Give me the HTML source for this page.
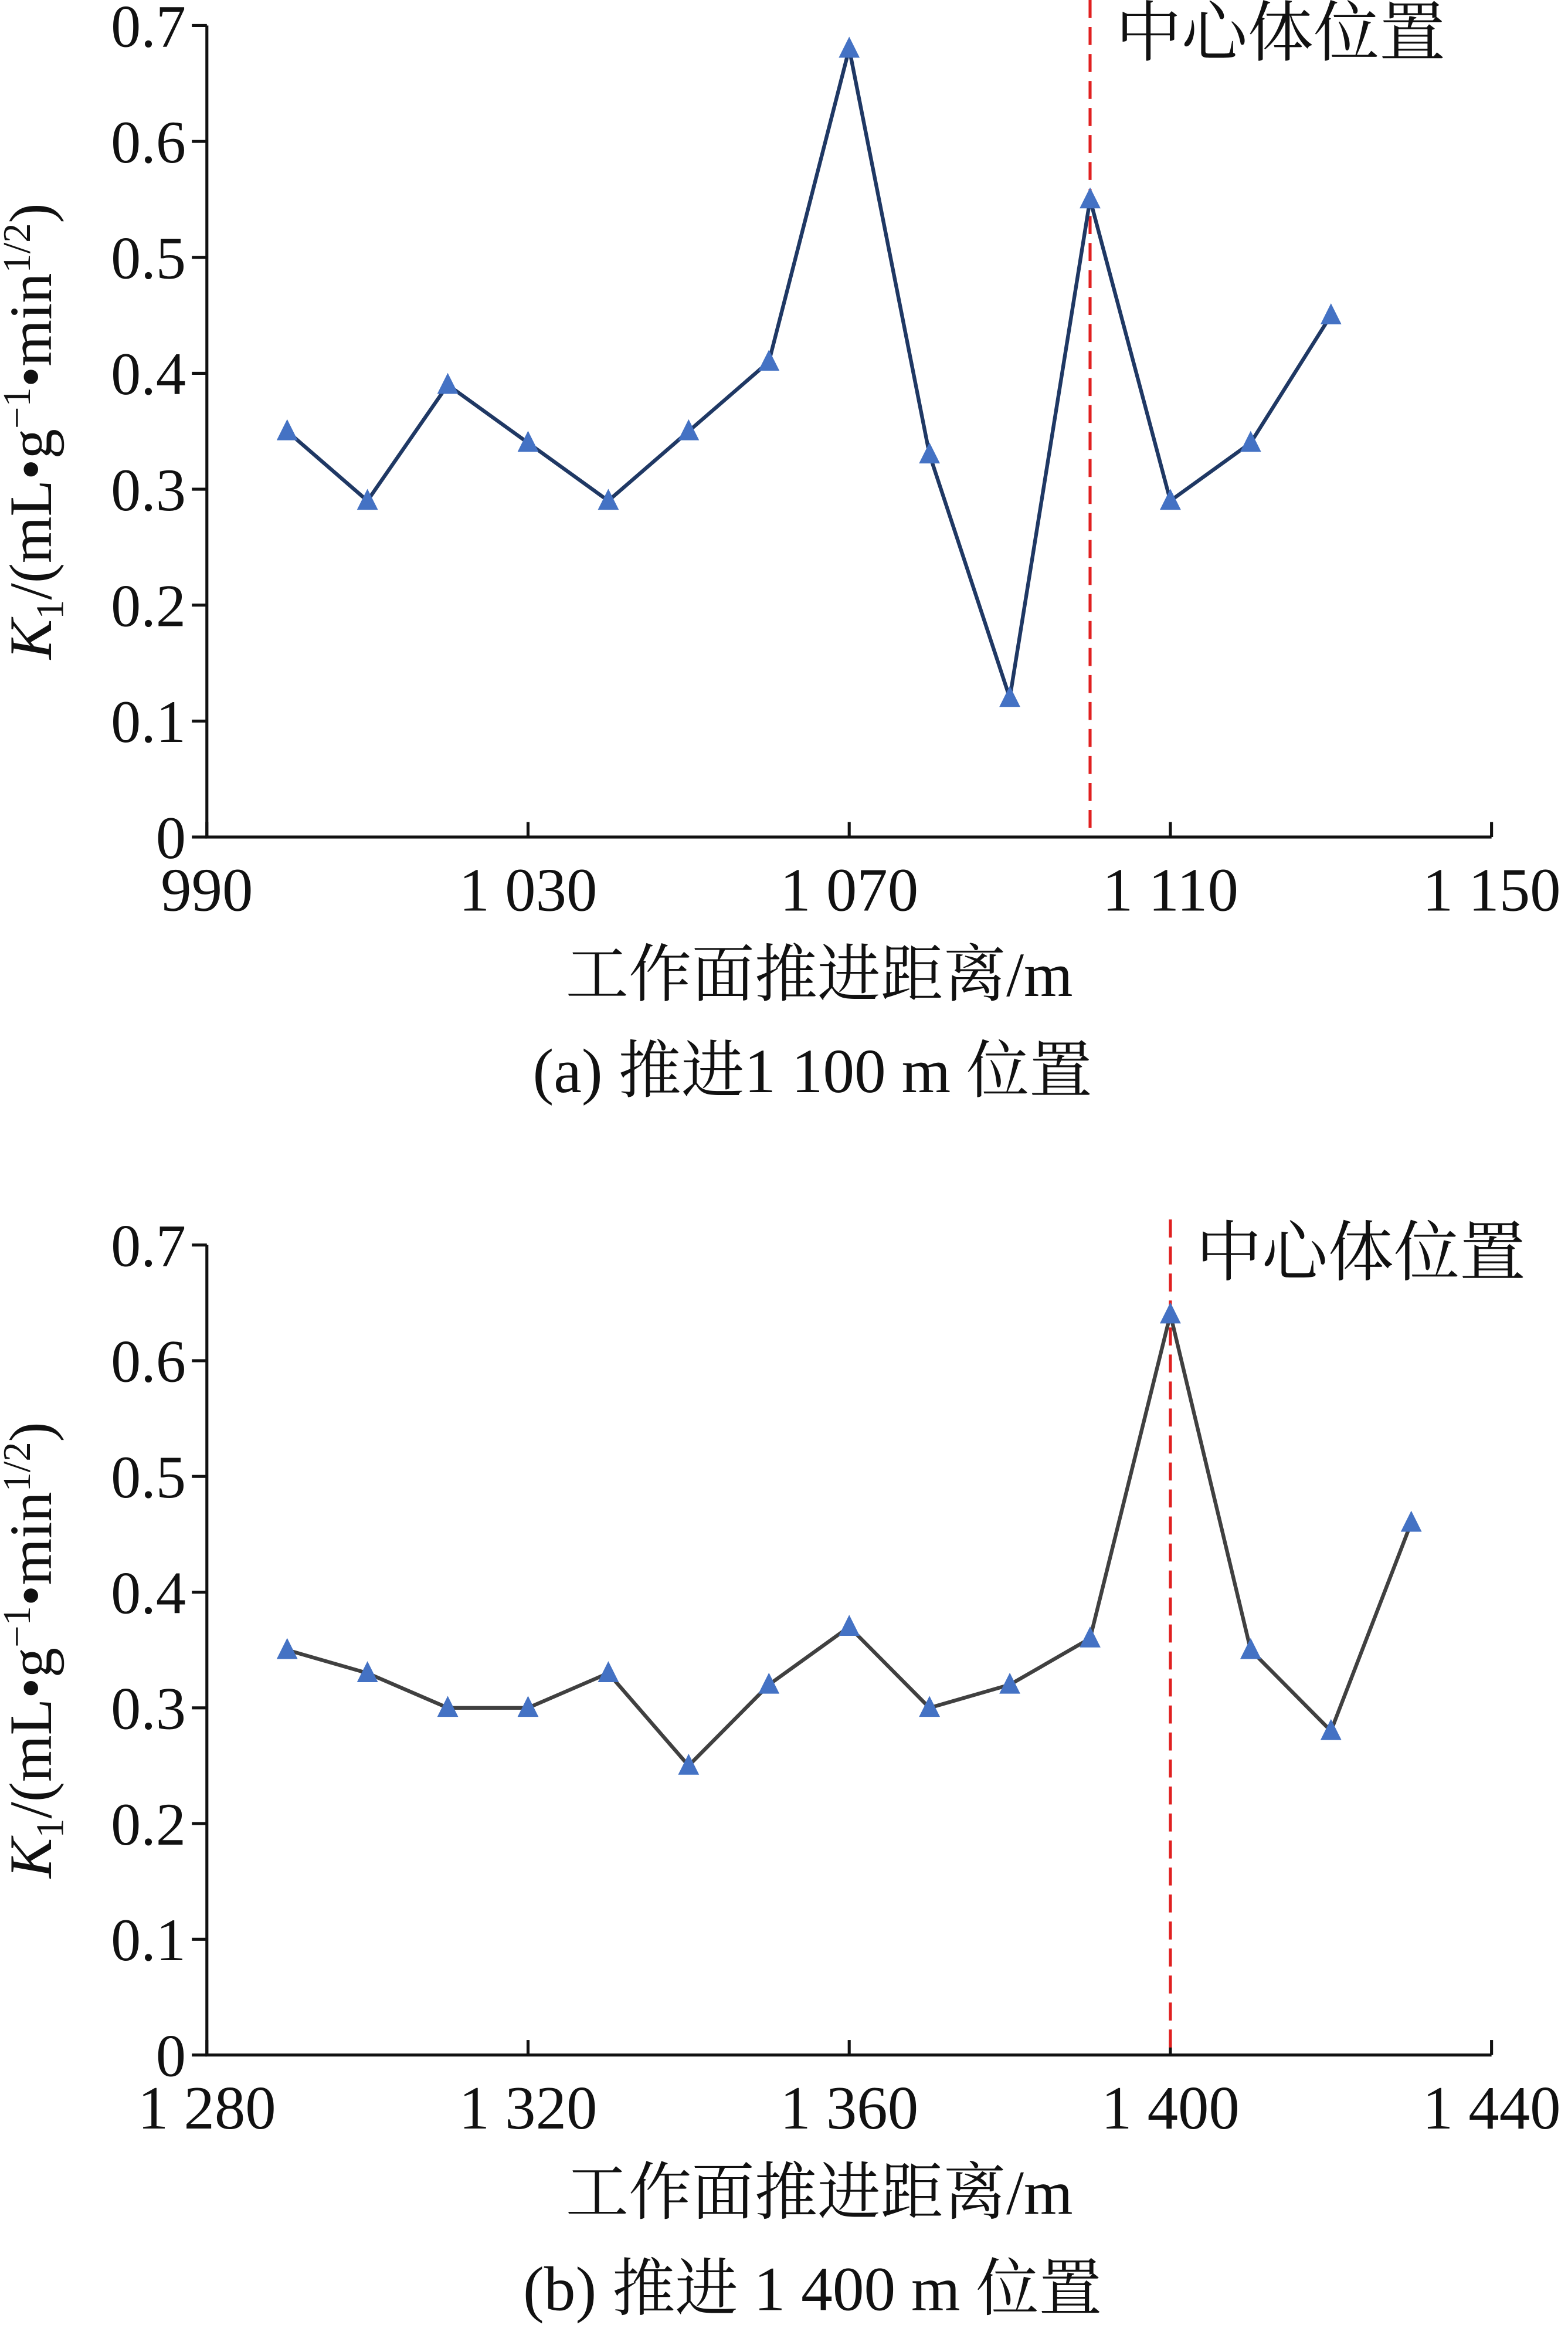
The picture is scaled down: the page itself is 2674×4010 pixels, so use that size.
<!DOCTYPE html>
<html><head><meta charset="utf-8"><style>html,body{margin:0;padding:0;background:#fff}svg{display:block}text{font-family:"Liberation Serif","Noto Serif CJK SC",serif;fill:#111}</style></head>
<body>
<svg id="s" width="2674" height="4010" viewBox="0 0 1046 1568" preserveAspectRatio="none" xmlns="http://www.w3.org/2000/svg"></svg>
<script>
const xA = [1000,1010,1020,1030,1040,1050,1060,1070,1080,1090,1100,1110,1120,1130];
const yA = [0.35,0.29,0.39,0.34,0.29,0.35,0.41,0.68,0.33,0.12,0.55,0.29,0.34,0.45];
const xTicksA = [990,1030,1070,1110,1150];
const xTickLabelsA = ["990","1 030","1 070","1 110","1 150"];
const markerA = 1100;
const xB = [1290,1300,1310,1320,1330,1340,1350,1360,1370,1380,1390,1400,1410,1420,1430];
const yB = [0.35,0.33,0.30,0.30,0.33,0.25,0.32,0.37,0.30,0.32,0.36,0.64,0.35,0.28,0.46];
const xTicksB = [1280,1320,1360,1400,1440];
const xTickLabelsB = ["1 280","1 320","1 360","1 400","1 440"];
const markerB = 1400;
const yTicks = [0,0.1,0.2,0.3,0.4,0.5,0.6,0.7];
const yTickLabels = ["0","0.1","0.2","0.3","0.4","0.5","0.6","0.7"];

const svg = document.getElementById('s');
const NS = 'http://www.w3.org/2000/svg';
function el(tag, attrs, parent){const e=document.createElementNS(NS,tag);for(const k in attrs)e.setAttribute(k,attrs[k]);(parent||svg).appendChild(e);return e;}

function chart(id, xs, ys, xt, xtl, marker, x0, x1, top, bottom, lineColor, caption){
  const g = el('g',{});
  
  
  const L=138, R=995;
  const sx = v => L + (v - x0) / (x1 - x0) * (R - L);
  const sy = v => bottom - v / 0.7 * (bottom - top);
  const ax = el('path',{d:`M${L} ${top} L${L} ${bottom} L${R} ${bottom}`,fill:'none',stroke:'#111','stroke-width':2},g);
  
  
  yTicks.forEach((v,i)=>{
    el('line',{x1:L-10,x2:L,y1:sy(v),y2:sy(v),stroke:'#111','stroke-width':2},g);
    const t = el('text',{x:L-14,y:sy(v)+14,'text-anchor':'end','font-size':40},g);
    t.textContent = yTickLabels[i];
    
    
  });
  xt.forEach((v,i)=>{
    el('line',{x1:sx(v),x2:sx(v),y1:bottom-10,y2:bottom,stroke:'#111','stroke-width':2},g);
    const t = el('text',{x:sx(v),y:bottom+49,'text-anchor':'middle','font-size':41},g);
    t.textContent = xtl[i];
    
    
  });
  const dl = el('line',{x1:sx(marker),x2:sx(marker),y1:top-17,y2:bottom,stroke:'#e02020','stroke-width':2,'stroke-dasharray':'12 6'},g);
  
  
  const ml = el('text',{x:sx(marker)+17,y:top+20,'font-size':44},g);
  ml.textContent = '中心体位置';
  
  
  const pl = el('polyline',{points:xs.map((x,i)=>sx(x)+','+sy(ys[i])).join(' '),fill:'none',stroke:lineColor,'stroke-width':2.5},g);
  
  
  xs.forEach((x,i)=>{
    const cx=sx(x), cy=sy(ys[i]);
    const p = el('polygon',{points:`${cx},${cy-8} ${cx-7},${cy+6} ${cx+7},${cy+6}`,fill:'#4472c4'},g);
    
    
  });
  const xl = el('text',{x:(L+R)/2-20,y:bottom+106,'text-anchor':'middle','font-size':42},g);
  xl.textContent = '工作面推进距离/m';
  
  
  const yc=(top+bottom)/2;
  const yl = el('text',{x:0,y:0,'text-anchor':'middle','font-size':40,transform:`translate(34 ${yc}) rotate(-90)`},g);
  yl.innerHTML = '<tspan font-style="italic">K</tspan><tspan font-size="26" dy="8">1</tspan><tspan dy="-8">/(mL•g</tspan><tspan font-size="26" dy="-14">−1</tspan><tspan dy="14">•min</tspan><tspan font-size="26" dy="-14">1/2</tspan><tspan dy="14">)</tspan>';
  
  
  const c = el('text',{x:542,y:bottom+170,'text-anchor':'middle','font-size':42},g);
  c.textContent = caption;
  
  
}
chart('a', xA, yA, xTicksA, xTickLabelsA, markerA, 990, 1150, 17, 558, '#1f3864', '(a) 推进1 100 m 位置');
chart('b', xB, yB, xTicksB, xTickLabelsB, markerB, 1280, 1440, 830, 1370, '#404040', '(b) 推进 1 400 m 位置');
</script>
</body></html>
